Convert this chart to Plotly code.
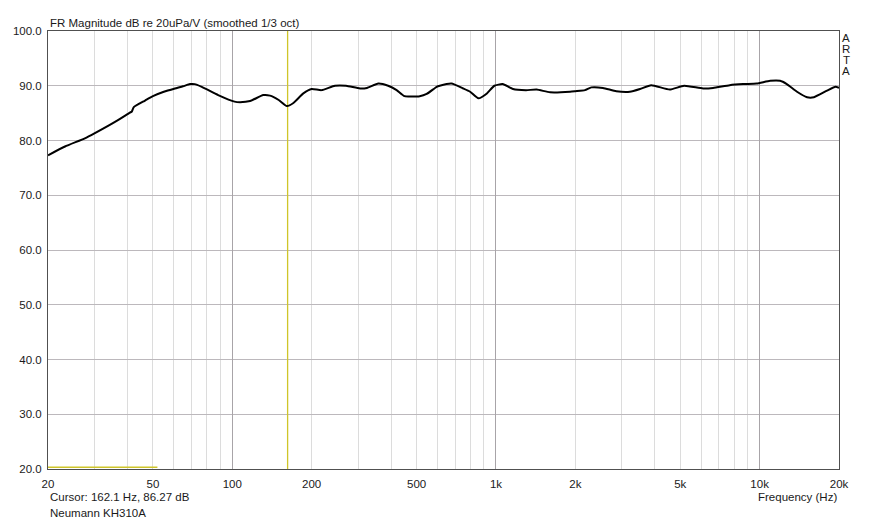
import plotly.graph_objects as go

# ---- data ----
freq_hz = [20, 23.2, 27.6, 30, 35.9, 40.9, 41.6, 42.3, 46.7, 50, 55, 60.6, 65, 69.1, 72,
           76.6, 88.4, 102, 107, 116.8, 131, 139, 150, 161, 170, 186, 200, 218, 245, 270,
           305, 324, 358, 390, 420, 450, 514, 546, 596, 612, 678, 751, 798, 858, 924, 986,
           1060, 1160, 1300, 1426, 1604, 1910, 2000, 2176, 2300, 2546, 2860, 3220, 3520,
           3880, 4560, 5170, 6100, 6660, 7700, 8660, 9740, 10960, 11960, 12680, 13860,
           15130, 16060, 18020, 19400, 20000]
magnitude_db = [77.3, 78.9, 80.4, 81.3, 83.4, 85.1, 85.3, 86.1, 87.3, 88.1, 88.9, 89.5, 89.9, 90.3, 90.3,
                89.8, 88.3, 87.1, 87.0, 87.2, 88.3, 88.2, 87.4, 86.3, 86.8, 88.6, 89.4, 89.2, 90.0, 90.0,
                89.5, 89.6, 90.4, 90.0, 89.2, 88.1, 88.1, 88.5, 89.8, 90.0, 90.4, 89.5, 88.9, 87.7, 88.6, 90.0,
                90.3, 89.4, 89.2, 89.3, 88.8, 88.9, 89.0, 89.2, 89.7, 89.6, 89.0, 88.9, 89.4,
                90.1, 89.3, 90.0, 89.5, 89.6, 90.1, 90.3, 90.4, 90.9, 90.9, 90.3, 88.9,
                87.9, 87.9, 89.1, 89.8, 89.6]

cursor_freq = 162.1
cursor_db = 86.27
lower_marker_freq = [20, 52]
lower_marker_db = [20.3, 20.3]

x_tick_vals = [20, 50, 100, 200, 500, 1000, 2000, 5000, 10000, 20000]
x_tick_text = ["20", "50", "100", "200", "500", "1k", "2k", "5k", "10k", "20k"]
minor_grid = [m * d for d in (10, 100, 1000, 10000) for m in range(2, 10) if 20 <= m * d <= 20000]
decade_grid = [100, 1000, 10000]
y_tick_vals = [20, 30, 40, 50, 60, 70, 80, 90, 100]
y_tick_text = [f"{v:.1f}" for v in y_tick_vals]

title_text = "FR Magnitude dB re 20uPa/V (smoothed 1/3 oct)"
x_title = "Frequency (Hz)"
device_name = "Neumann KH310A"
brand = "ARTA"

FONT = "Liberation Sans, Arial, sans-serif"
FS = 11.5
TXT = "#1a1a1a"
OFF = 8  # the page body margin shifts the figure by 8 px
W, H = 886 - OFF, 522 - OFF
# desired plot area in window pixels: x 48..839, y 31..469
ML, MR, MT, MB = 48 - OFF, 886 - 839, 31 - OFF, 522 - 469
PW, PH = W - ML - MR, H - MT - MB


def px_x(px):
    return (px - OFF - ML) / PW


def px_y(py):
    return 1 - (py - OFF - MT) / PH


fig = go.Figure()

# cursor vertical line
fig.add_trace(go.Scatter(x=[cursor_freq, cursor_freq], y=[20, 100], mode="lines",
                         line=dict(color="#cfc52a", width=1.3), hoverinfo="skip", showlegend=False))
# lower marker
fig.add_trace(go.Scatter(x=lower_marker_freq, y=lower_marker_db, mode="lines",
                         line=dict(color="#cfc52a", width=1.5), hoverinfo="skip", showlegend=False))
# response curve
fig.add_trace(go.Scatter(x=freq_hz, y=magnitude_db, mode="lines",
                         line=dict(color="#000000", width=2, shape="spline", smoothing=0.5),
                         showlegend=False))
# invisible trace for the decade-grid axis
fig.add_trace(go.Scatter(x=[20, 20000], y=[20, 20], xaxis="x2", mode="lines",
                         line=dict(width=0), hoverinfo="skip", showlegend=False))

fig.update_layout(
    width=W, height=H,
    margin=dict(l=ML, r=MR, t=MT, b=MB, autoexpand=False),
    paper_bgcolor="white", plot_bgcolor="white",
    font=dict(family=FONT, size=FS, color=TXT),
    xaxis=dict(type="log", range=[1.30103, 4.30103],
               tickmode="array", tickvals=x_tick_vals, ticktext=x_tick_text,
               showgrid=False, zeroline=False,
               showline=True, mirror=True, linecolor="#505050", linewidth=1,
               ticks="", ticklabelstandoff=4,
               minor=dict(tickmode="array", tickvals=minor_grid, showgrid=True,
                          gridcolor="#dcdcdc", gridwidth=1, ticks="")),
    xaxis2=dict(type="log", range=[1.30103, 4.30103], overlaying="x",
                tickmode="array", tickvals=decade_grid, showticklabels=False,
                showgrid=True, gridcolor="#a8a4a8", gridwidth=1, zeroline=False, ticks=""),
    yaxis=dict(range=[20, 100], tickmode="array", tickvals=y_tick_vals, ticktext=y_tick_text,
               showgrid=True, gridcolor="#bcb8bc", gridwidth=1, zeroline=False,
               showline=True, mirror=True, linecolor="#505050", linewidth=1,
               ticks="", ticklabelstandoff=3),
)

texts = [
    (title_text, px_x(48), px_y(23), "left"),
    (f"Cursor: {cursor_freq} Hz, {cursor_db} dB", px_x(48), px_y(497), "left"),
    (device_name, px_x(48), px_y(513), "left"),
    (x_title, px_x(839), px_y(497), "right"),
]
# vertical brand letters
for i, ch in enumerate(brand):
    texts.append((ch, px_x(846), px_y(38 + i * 11), "center"))

for t, x, y, xa in texts:
    fig.add_annotation(text=t, x=x, y=y, xref="paper", yref="paper", xanchor=xa,
                       yanchor="middle", showarrow=False,
                       font=dict(family=FONT, size=FS, color=TXT))

fig.write_html("out.html")
